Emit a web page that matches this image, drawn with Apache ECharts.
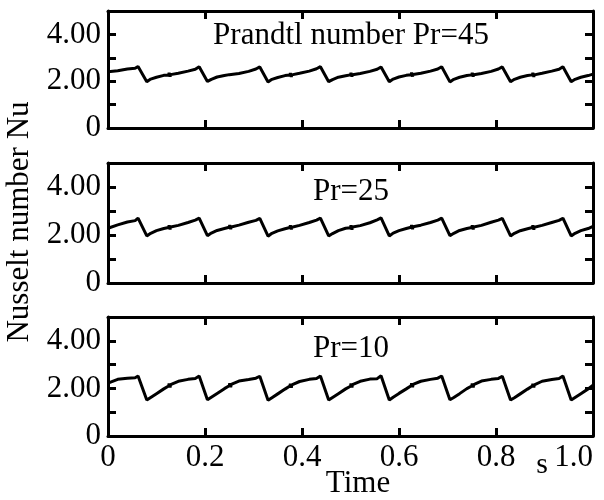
<!DOCTYPE html>
<html>
<head>
<meta charset="utf-8">
<script src="https://cdn.jsdelivr.net/npm/echarts@6/dist/echarts.min.js"></script>
<style>
  html, body { margin: 0; padding: 0; background: #fff; }
  #chart { width: 604px; height: 500px; }
</style>
</head>
<body>
<div id="chart"></div>
<script>
// time (s), shared by the three runs
var times = [
  0, 0.020, 0.040, 0.056, 0.062,
  0.080, 0.088, 0.100, 0.115, 0.125, 0.126, 0.128, 0.129, 0.145, 0.165, 0.180, 0.188,
  0.205, 0.213, 0.225, 0.240, 0.250, 0.251, 0.253, 0.254, 0.270, 0.290, 0.305, 0.313,
  0.330, 0.338, 0.350, 0.365, 0.375, 0.376, 0.378, 0.379, 0.395, 0.415, 0.430, 0.438,
  0.455, 0.463, 0.475, 0.490, 0.500, 0.501, 0.503, 0.504, 0.520, 0.540, 0.555, 0.563,
  0.580, 0.588, 0.600, 0.615, 0.625, 0.626, 0.628, 0.629, 0.645, 0.665, 0.680, 0.688,
  0.705, 0.713, 0.725, 0.740, 0.750, 0.751, 0.753, 0.754, 0.770, 0.790, 0.805, 0.813,
  0.830, 0.838, 0.850, 0.865, 0.875, 0.876, 0.878, 0.879, 0.895, 0.915, 0.930, 0.938,
  0.955, 0.963, 0.975, 0.990, 1.000
];

// Nusselt number, Pr = 45
var nuPr45 = [
  2.40, 2.45, 2.52, 2.55, 2.63,
  1.98, 2.09, 2.17, 2.25, 2.27, 2.36, 2.19, 2.28, 2.34, 2.43, 2.51, 2.62,
  1.99, 2.08, 2.18, 2.24, 2.28, 2.36, 2.20, 2.28, 2.33, 2.42, 2.52, 2.61,
  1.97, 2.08, 2.16, 2.24, 2.26, 2.35, 2.18, 2.27, 2.34, 2.43, 2.53, 2.62,
  1.98, 2.07, 2.17, 2.23, 2.27, 2.36, 2.19, 2.28, 2.33, 2.42, 2.51, 2.61,
  1.98, 2.09, 2.18, 2.25, 2.28, 2.37, 2.20, 2.29, 2.34, 2.43, 2.52, 2.62,
  1.97, 2.08, 2.17, 2.24, 2.27, 2.36, 2.19, 2.28, 2.33, 2.42, 2.52, 2.61,
  1.98, 2.08, 2.17, 2.24, 2.27, 2.36, 2.18, 2.27, 2.34, 2.43, 2.51, 2.62,
  1.98, 2.08, 2.17, 2.24, 2.30
];

// Nusselt number, Pr = 25
var nuPr25 = [
  2.28, 2.42, 2.54, 2.60, 2.70,
  1.96, 2.07, 2.18, 2.27, 2.31, 2.40, 2.23, 2.33, 2.40, 2.52, 2.62, 2.70,
  1.97, 2.08, 2.19, 2.27, 2.32, 2.41, 2.24, 2.33, 2.41, 2.53, 2.61, 2.69,
  1.95, 2.07, 2.17, 2.26, 2.31, 2.40, 2.23, 2.32, 2.40, 2.52, 2.62, 2.70,
  1.96, 2.06, 2.18, 2.28, 2.30, 2.40, 2.22, 2.33, 2.39, 2.51, 2.63, 2.71,
  1.96, 2.08, 2.18, 2.27, 2.32, 2.41, 2.24, 2.34, 2.41, 2.52, 2.62, 2.70,
  1.97, 2.07, 2.19, 2.27, 2.31, 2.40, 2.23, 2.33, 2.40, 2.53, 2.62, 2.69,
  1.96, 2.07, 2.18, 2.26, 2.31, 2.40, 2.22, 2.32, 2.40, 2.52, 2.61, 2.70,
  1.96, 2.07, 2.18, 2.27, 2.36
];

// Nusselt number, Pr = 10
var nuPr10 = [
  2.22, 2.38, 2.43, 2.45, 2.52,
  1.51, 1.62, 1.78, 1.98, 2.10, 2.20, 2.04, 2.16, 2.30, 2.38, 2.42, 2.52,
  1.52, 1.63, 1.79, 1.99, 2.11, 2.21, 2.05, 2.17, 2.31, 2.37, 2.43, 2.51,
  1.50, 1.61, 1.77, 1.97, 2.10, 2.19, 2.03, 2.15, 2.29, 2.38, 2.42, 2.52,
  1.51, 1.62, 1.78, 1.98, 2.09, 2.20, 2.04, 2.16, 2.30, 2.39, 2.41, 2.53,
  1.51, 1.63, 1.79, 1.98, 2.11, 2.21, 2.05, 2.17, 2.30, 2.38, 2.43, 2.52,
  1.52, 1.62, 1.78, 1.99, 2.10, 2.20, 2.04, 2.16, 2.31, 2.38, 2.42, 2.51,
  1.51, 1.61, 1.77, 1.97, 2.10, 2.19, 2.04, 2.15, 2.30, 2.37, 2.42, 2.52,
  1.51, 1.62, 1.78, 1.98, 2.14
];

var panelTitles = ["Prandtl number Pr=45", "Pr=25", "Pr=10"];
var yTickLabels = { 0: "0", 2: "2.00", 4: "4.00" };
var xTickLabels = { 0: "0", 0.2: "0.2", 0.4: "0.4", 0.6: "0.6", 0.8: "0.8", 1: "1.0" };

var FONT = "Liberation Serif";
var chart = echarts.init(document.getElementById("chart"));

var grids = [
  { left: 108, right: 11, top: 11, height: 117, outerBoundsMode: "none", containLabel: false },
  { left: 108, right: 11, top: 163, height: 120, outerBoundsMode: "none", containLabel: false },
  { left: 108, right: 11, top: 317, height: 119, outerBoundsMode: "none", containLabel: false }
];
var titleY = [36, 192, 349];
var runs = [nuPr45, nuPr25, nuPr10];

var lineStyle = { color: "#000", width: 3 };
var tickStyle = { show: true, inside: true, length: 8, lineStyle: { color: "#000", width: 3 } };

var xAxes = [];
var yAxes = [];
var series = [];
var graphics = [];

for (var i = 0; i < 3; i++) {
  var last = i === 2;
  xAxes.push({
    gridIndex: i, type: "value", position: "bottom", min: 0, max: 1, interval: 0.2,
    axisLine: { show: true, onZero: false, lineStyle: lineStyle },
    axisTick: tickStyle,
    splitLine: { show: false },
    axisLabel: {
      show: last, margin: 6, color: "#000", fontFamily: FONT, fontSize: 31,
      alignMaxLabel: "right",
      formatter: function (v) { return xTickLabels[v] !== undefined ? xTickLabels[v] : ""; }
    }
  });
  xAxes.push({
    gridIndex: i, type: "value", position: "top", min: 0, max: 1, interval: 0.2,
    axisLine: { show: true, onZero: false, lineStyle: lineStyle },
    axisTick: tickStyle,
    splitLine: { show: false },
    axisLabel: { show: false }
  });
  yAxes.push({
    gridIndex: i, type: "value", position: "left", min: 0, max: 5, interval: 1,
    axisLine: { show: true, onZero: false, lineStyle: lineStyle },
    axisTick: tickStyle,
    splitLine: { show: false },
    axisLabel: {
      margin: 7, color: "#000", fontFamily: FONT, fontSize: 31,
      formatter: function (v) { return yTickLabels[v] || ""; }
    }
  });
  yAxes.push({
    gridIndex: i, type: "value", position: "right", min: 0, max: 5, interval: 1,
    axisLine: { show: true, onZero: false, lineStyle: lineStyle },
    axisTick: tickStyle,
    splitLine: { show: false },
    axisLabel: { show: false }
  });

  var vals = runs[i];
  series.push({
    type: "line",
    xAxisIndex: i * 2,
    yAxisIndex: i * 2,
    showSymbol: false,
    symbol: "none",
    lineStyle: { color: "#000", width: 3 },
    data: times.map(function (t, k) { return [t, vals[k]]; })
  });

  graphics.push({
    type: "text", x: 351, y: titleY[i],
    style: { text: panelTitles[i], fill: "#000", font: "31px " + FONT, textAlign: "center", textVerticalAlign: "middle" }
  });
}

graphics.push({
  type: "text", x: 20, y: 222, rotation: Math.PI / 2,
  style: { text: "Nusselt number Nu", fill: "#000", font: "31px " + FONT, textAlign: "center", textVerticalAlign: "middle" }
});
graphics.push({
  type: "text", x: 358, y: 484,
  style: { text: "Time", fill: "#000", font: "31px " + FONT, textAlign: "center", textVerticalAlign: "middle" }
});
graphics.push({
  type: "text", x: 542, y: 465,
  style: { text: "s", fill: "#000", font: "30px " + FONT, textAlign: "center", textVerticalAlign: "middle" }
});

chart.setOption({
  animation: false,
  backgroundColor: "#fff",
  grid: grids,
  xAxis: xAxes,
  yAxis: yAxes,
  series: series,
  graphic: graphics
});
</script>
</body>
</html>
